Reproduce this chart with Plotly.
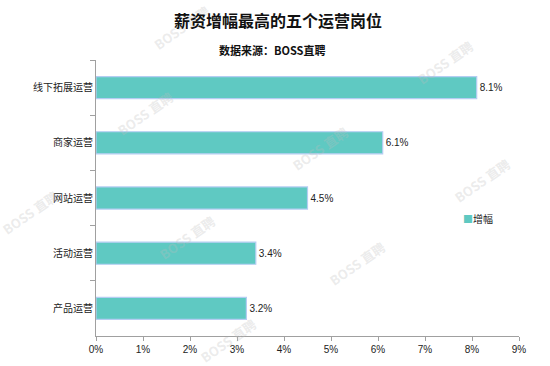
import plotly.graph_objects as go

categories = ["线下拓展运营", "商家运营", "网站运营", "活动运营", "产品运营"]
values = [8.1, 6.1, 4.5, 3.4, 3.2]
x_ticks = [0, 1, 2, 3, 4, 5, 6, 7, 8, 9]
x_tick_labels = [f"{v}%" for v in x_ticks]
series_name = "增幅"

BAR = "#5FC9C2"
FONT = "Noto Sans CJK SC, Arial, sans-serif"

L, R, T, B = 96, 31, 60, 30
W, H = 550, 366
PW, PH = W - L - R, H - T - B


def px2paper(px, py):
    return (px - L) / PW, (H - B - py) / PH


fig = go.Figure()
fig.add_trace(go.Bar(
    y=categories, x=values, orientation="h", name=series_name,
    marker=dict(color=BAR, line=dict(color="#B4CDF2", width=1.2)),
    text=[f"{v}%" for v in values], textposition="outside",
    textfont=dict(size=10, color="#222", family="Arial"),
    cliponaxis=False, width=0.4, showlegend=False,
))

# watermarks
wm = [(182, 28), (445, 62), (145, 113), (320, 148), (482, 180), (30, 212),
      (187, 237), (357, 263), (228, 340)]
annotations = []
for (px, py) in wm:
    ax, ay = px2paper(px, py)
    annotations.append(dict(
        x=ax, y=ay, xref="paper", yref="paper",
        text="<b>BOSS 直聘</b>", showarrow=False, textangle=-35,
        font=dict(size=13, color="rgba(190,190,190,0.3)", family=FONT),
        xanchor="center", yanchor="middle"))

tx, ty = px2paper(278, 20)
annotations.append(dict(x=tx, y=ty, xref="paper", yref="paper",
                        text="<b>薪资增幅最高的五个运营岗位</b>", showarrow=False,
                        font=dict(size=16, color="#111", family=FONT),
                        xanchor="center", yanchor="middle"))
sx, sy = px2paper(272, 50)
annotations.append(dict(x=sx, y=sy, xref="paper", yref="paper",
                        text="<b>数据来源：BOSS直聘</b>", showarrow=False,
                        font=dict(size=11, color="#111", family=FONT),
                        xanchor="center", yanchor="middle"))
lx, ly = px2paper(461, 218)
annotations.append(dict(x=lx, y=ly, xref="paper", yref="paper",
                        text=f"<span style='color:{BAR}'>■</span>{series_name}",
                        showarrow=False,
                        font=dict(size=10, color="#222", family=FONT),
                        xanchor="left", yanchor="middle"))

fig.update_layout(
    width=W, height=H,
    margin=dict(l=L, r=R, t=T, b=B),
    paper_bgcolor="white", plot_bgcolor="white",
    font=dict(family=FONT, color="#222"),
    showlegend=False,
    annotations=annotations,
    xaxis=dict(
        range=[0, 9], tickvals=x_ticks, ticktext=x_tick_labels,
        showgrid=False, zeroline=False, showline=True, linecolor="#A0A0A0",
        linewidth=1, ticks="outside", ticklen=4, tickcolor="#A0A0A0",
        tickfont=dict(size=10, color="#222", family="Arial"),
    ),
    yaxis=dict(
        autorange="reversed", showgrid=False, zeroline=False, showline=True,
        linecolor="#A0A0A0", linewidth=1, ticks="outside", ticklen=5,
        tickcolor="#A0A0A0", tickson="boundaries",
        tickfont=dict(size=10, color="#222", family=FONT),
    ),
)

fig.write_html("out.html")
